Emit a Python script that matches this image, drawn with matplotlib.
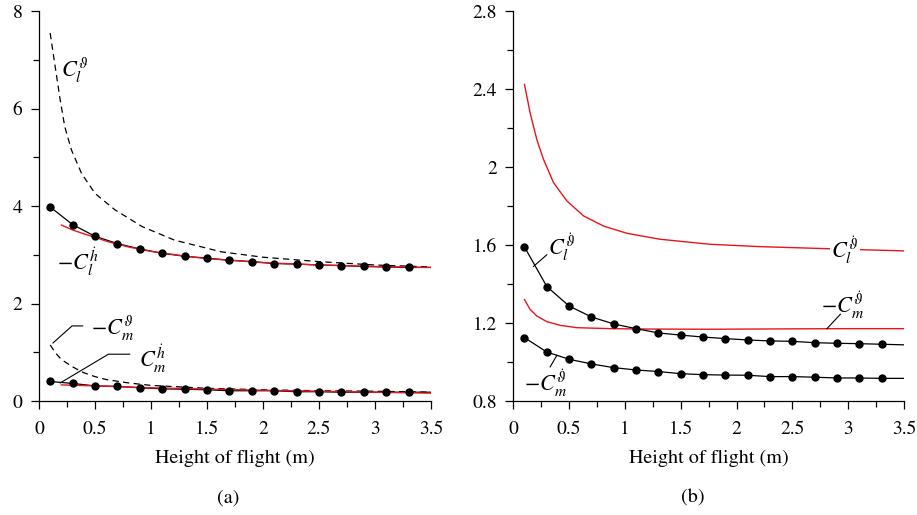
import numpy as np
import matplotlib
matplotlib.use("Agg")
import matplotlib.pyplot as plt
from matplotlib.ticker import MultipleLocator, FuncFormatter

plt.rcParams['font.family'] = ['STIXGeneral', 'DejaVu Serif']
plt.rcParams['mathtext.fontset'] = 'stix'

RED = '#e8141c'

# --- panel (a) data ---
h_dots = [0.1, 0.3, 0.5, 0.7, 0.9, 1.1, 1.3, 1.5, 1.7, 1.9, 2.1, 2.3, 2.5, 2.7, 2.9, 3.1, 3.3]
cl_hdot_dots = [3.98, 3.62, 3.38, 3.23, 3.12, 3.03, 2.97, 2.93, 2.89, 2.86, 2.82, 2.81, 2.79, 2.78, 2.76, 2.75, 2.74]
cm_hdot_dots = [0.40, 0.36, 0.31, 0.30, 0.27, 0.25, 0.24, 0.23, 0.21, 0.21, 0.21, 0.19, 0.19, 0.18, 0.18, 0.18, 0.18]
cl_hdot_end = 2.74
cm_hdot_end = 0.18

cl_theta_x = [0.1, 0.14, 0.19, 0.23, 0.29, 0.38, 0.5, 0.68, 0.92, 1.21, 1.63, 2.0, 2.5, 3.0, 3.5]
cl_theta_y = [7.55, 6.93, 6.17, 5.63, 5.15, 4.67, 4.26, 3.92, 3.58, 3.30, 3.06, 2.95, 2.86, 2.79, 2.75]

cl_hdot_red_x = [0.2, 0.3, 0.4, 0.5, 0.6, 0.7, 0.8, 1.0, 1.25, 1.5, 2.0, 2.5, 3.0, 3.5]
cl_hdot_red_y = [3.61, 3.51, 3.43, 3.36, 3.28, 3.22, 3.16, 3.07, 2.99, 2.92, 2.84, 2.79, 2.76, 2.74]

cm_theta_x = [0.1, 0.15, 0.2, 0.3, 0.4, 0.5, 0.6, 0.8, 1.0, 1.5, 2.0, 2.5, 3.0, 3.5]
cm_theta_y = [1.15, 0.98, 0.85, 0.70, 0.58, 0.50, 0.44, 0.37, 0.32, 0.26, 0.23, 0.21, 0.20, 0.18]

cm_hdot_red_x = [0.2, 0.5, 1.0, 1.5, 2.0, 2.5, 3.0, 3.5]
cm_hdot_red_y = [0.33, 0.31, 0.27, 0.245, 0.22, 0.20, 0.18, 0.16]

# --- panel (b) data ---
cl_thdot_dots = [1.59, 1.387, 1.287, 1.231, 1.195, 1.171, 1.149, 1.138, 1.128, 1.120, 1.113, 1.108, 1.106, 1.099, 1.096, 1.094, 1.091]
cm_thdot_dots = [1.125, 1.051, 1.014, 0.990, 0.971, 0.959, 0.951, 0.940, 0.935, 0.933, 0.932, 0.925, 0.925, 0.922, 0.918, 0.918, 0.916]
cl_thdot_end = 1.088
cm_thdot_end = 0.916

cl_thdot_red_x = [0.1, 0.15, 0.21, 0.27, 0.36, 0.48, 0.63, 0.81, 1.02, 1.31, 1.76, 2.2, 2.6, 3.0, 3.5]
cl_thdot_red_y = [2.424, 2.279, 2.142, 2.04, 1.92, 1.826, 1.749, 1.697, 1.66, 1.63, 1.604, 1.592, 1.585, 1.578, 1.57]

cm_thdot_red_x = [0.1, 0.15, 0.21, 0.30, 0.42, 0.57, 0.87, 1.2, 1.76, 2.5, 3.0, 3.5]
cm_thdot_red_y = [1.32, 1.27, 1.236, 1.207, 1.188, 1.176, 1.171, 1.169, 1.168, 1.170, 1.171, 1.171]


def fmt(v, pos):
    return '%g' % v


def style_axes(ax, ymin, ymax, ymajor, yminor):
    ax.set_xlim(0, 3.5)
    ax.set_ylim(ymin, ymax)
    ax.xaxis.set_major_locator(MultipleLocator(0.5))
    ax.xaxis.set_minor_locator(MultipleLocator(0.25))
    ax.yaxis.set_major_locator(MultipleLocator(ymajor))
    ax.yaxis.set_minor_locator(MultipleLocator(yminor))
    ax.xaxis.set_major_formatter(FuncFormatter(fmt))
    ax.yaxis.set_major_formatter(FuncFormatter(fmt))
    for s in ['top', 'right']:
        ax.spines[s].set_visible(False)
    for s in ['left', 'bottom']:
        ax.spines[s].set_linewidth(0.9)
    ax.tick_params(which='major', direction='out', length=6, width=0.9, labelsize=14)
    ax.tick_params(which='minor', direction='out', length=4.5, width=0.9)
    ax.tick_params(axis='x', which='major', pad=8)
    ax.tick_params(axis='y', which='major', pad=6)
    ax.set_xlabel('Height of flight (m)', fontsize=14.5, labelpad=9)


fig = plt.figure(figsize=(9.17, 5.15), dpi=100)
ax1 = fig.add_axes([0.0425, 0.2214, 0.4275, 0.757])
ax2 = fig.add_axes([0.5598, 0.2214, 0.426, 0.757])

# panel (a)
ax1.plot(cl_theta_x, cl_theta_y, color='black', lw=0.9, ls=(0, (5, 3.5)))
ax1.plot(cm_theta_x, cm_theta_y, color='black', lw=0.9, ls=(0, (5, 3.5)))
ax1.plot(h_dots + [3.5], cl_hdot_dots + [cl_hdot_end], color='black', lw=0.9)
ax1.plot(h_dots + [3.5], cm_hdot_dots + [cm_hdot_end], color='black', lw=0.9)
ax1.plot(cl_hdot_red_x, cl_hdot_red_y, color=RED, lw=1.0)
ax1.plot(cm_hdot_red_x, cm_hdot_red_y, color=RED, lw=1.0)
ax1.plot(h_dots, cl_hdot_dots, 'o', color='black', ms=5)
ax1.plot(h_dots, cm_hdot_dots, 'o', color='black', ms=5)
style_axes(ax1, 0, 8, 2, 1)

lab = 16
ax1.text(0.32, 6.79, r'$C_l^{\vartheta}$', fontsize=lab, ha='center', va='center')
ax1.text(0.35, 2.85, r'$-C_l^{\dot{h}}$', fontsize=lab, ha='center', va='center')
ax1.text(0.66, 1.50, r'$-C_m^{\vartheta}$', fontsize=lab, ha='center', va='center')
ax1.text(1.02, 0.86, r'$C_m^{\dot{h}}$', fontsize=lab, ha='center', va='center')
ax1.plot([0.125, 0.295, 0.39], [1.19, 1.54, 1.54], color='black', lw=0.8)
ax1.plot([0.19, 0.62, 0.81], [0.37, 0.96, 0.96], color='black', lw=0.8)

# panel (b)
ax2.plot(cl_thdot_red_x, cl_thdot_red_y, color=RED, lw=1.0)
ax2.plot(cm_thdot_red_x, cm_thdot_red_y, color=RED, lw=1.0)
ax2.plot(h_dots + [3.5], cl_thdot_dots + [cl_thdot_end], color='black', lw=0.9)
ax2.plot(h_dots + [3.5], cm_thdot_dots + [cm_thdot_end], color='black', lw=0.9)
ax2.plot(h_dots, cl_thdot_dots, 'o', color='black', ms=5)
ax2.plot(h_dots, cm_thdot_dots, 'o', color='black', ms=5)
style_axes(ax2, 0.8, 2.8, 0.4, 0.2)

ax2.text(0.43, 1.59, r'$C_l^{\dot{\vartheta}}$', fontsize=lab, ha='center', va='center')
ax2.plot([0.18, 0.30], [1.49, 1.55], color='black', lw=0.8)
ax2.text(2.97, 1.575, r'$C_l^{\dot{\vartheta}}$', fontsize=lab, ha='center', va='center',
         bbox=dict(facecolor='white', edgecolor='none', pad=1))
ax2.text(2.95, 1.29, r'$-C_m^{\dot{\vartheta}}$', fontsize=lab, ha='center', va='center')
ax2.plot([2.81, 2.93], [1.171, 1.245], color='black', lw=0.8)
ax2.text(0.29, 0.893, r'$-C_m^{\dot{\vartheta}}$', fontsize=lab, ha='center', va='center')
ax2.plot([0.39, 0.33], [1.034, 0.975], color='black', lw=0.8)

fig.text(228 / 917, 1 - 498 / 515, '(a)', fontsize=14.5, ha='center', va='center')
fig.text(693 / 917, 1 - 498 / 515, '(b)', fontsize=14.5, ha='center', va='center')

fig.savefig('out.png', dpi=100)
